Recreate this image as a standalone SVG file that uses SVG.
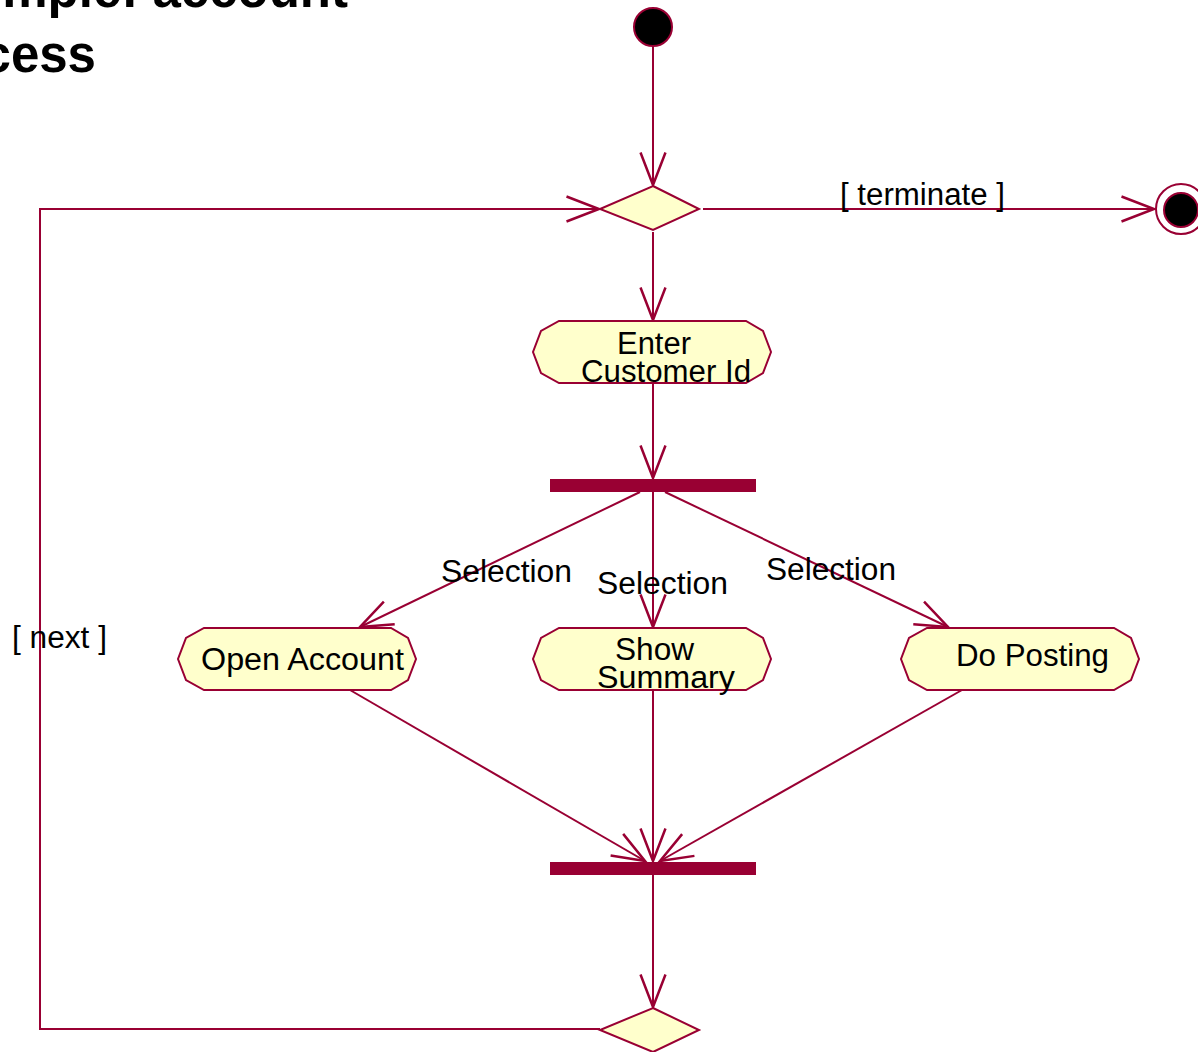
<svg xmlns="http://www.w3.org/2000/svg" width="1198" height="1052" viewBox="0 0 1198 1052">
  <style>
    .edge { fill: none; stroke: #990033; stroke-width: 2; }
    .act { fill: #FFFFCC; stroke: #990033; stroke-width: 2; }
    .bar { fill: #990033; }
    .dec { fill: #FFFFCC; stroke: #990033; stroke-width: 2; }
    .lbl { font-family: "Liberation Sans", Arial, sans-serif; font-size: 31px; fill: #000; }
    .title { font-family: "Liberation Sans", Arial, sans-serif; font-size: 51px; font-weight: bold; fill: #000; }
  </style>
  <defs>
    <!-- open V arrowhead -->
    <marker id="arrow" markerUnits="userSpaceOnUse" orient="auto" refX="0" refY="0" markerWidth="40" markerHeight="40" viewBox="-30 -15 32 30" overflow="visible">
      <path d="M -26 -10 L 0 0 L -26 10" fill="none" stroke="#990033" stroke-width="2"/>
    </marker>
    <!-- activity node outline, 238 x 62 -->
    <polygon id="actShape" points="26,0 213,0 230,10 238,31 230,52 213,62 26,62 8,52 0,31 8,10"/>
  </defs>

  <rect width="1198" height="1052" fill="#FFFFFF"/>

  <!-- heading -->
  <text class="title" x="348" y="7" text-anchor="end">mple: account</text>
  <text class="title" x="96" y="72" text-anchor="end">cess</text>

  <!-- connectors -->
  <g id="connectors">
    <line class="edge" x1="653" y1="46" x2="653" y2="185" marker-end="url(#arrow)"/>
    <line class="edge" x1="703" y1="209" x2="1154" y2="209" marker-end="url(#arrow)"/>
    <line class="edge" x1="653" y1="232" x2="653" y2="320" marker-end="url(#arrow)"/>
    <line class="edge" x1="653" y1="384" x2="653" y2="478" marker-end="url(#arrow)"/>
    <line class="edge" x1="640" y1="492" x2="360" y2="627" marker-end="url(#arrow)"/>
    <line class="edge" x1="653" y1="492" x2="653" y2="627" marker-end="url(#arrow)"/>
    <line class="edge" x1="665" y1="492" x2="948" y2="627" marker-end="url(#arrow)"/>
    <line class="edge" x1="350" y1="690" x2="645" y2="861" marker-end="url(#arrow)"/>
    <line class="edge" x1="653" y1="690" x2="653" y2="861" marker-end="url(#arrow)"/>
    <line class="edge" x1="962" y1="690" x2="660" y2="861" marker-end="url(#arrow)"/>
    <line class="edge" x1="653" y1="874" x2="653" y2="1007" marker-end="url(#arrow)"/>
    <polyline class="edge" points="600,1029 40,1029 40,209 599,209" marker-end="url(#arrow)"/>
    <text class="lbl" x="840" y="205" textLength="165" lengthAdjust="spacingAndGlyphs">[ terminate ]</text>
    <text class="lbl" x="12" y="648" textLength="95" lengthAdjust="spacingAndGlyphs">[ next ]</text>
    <text class="lbl" x="441" y="582" textLength="131" lengthAdjust="spacingAndGlyphs">Selection</text>
    <text class="lbl" x="597" y="594" textLength="131" lengthAdjust="spacingAndGlyphs">Selection</text>
    <text class="lbl" x="766" y="580" textLength="130" lengthAdjust="spacingAndGlyphs">Selection</text>
  </g>

  <!-- initial state -->
  <g id="start">
    <circle cx="653" cy="27" r="19" fill="#000" stroke="#990033" stroke-width="2"/>
  </g>

  <!-- upper decision -->
  <g id="decisionTop">
    <polygon class="dec" points="653,186 699,209 653,230 600,209"/>
  </g>

  <!-- final state -->
  <g id="final">
    <circle cx="1181" cy="209" r="25" fill="#FFFFFF" stroke="#990033" stroke-width="2"/>
    <circle cx="1181" cy="210" r="17" fill="#000" stroke="#990033" stroke-width="2"/>
  </g>

  <g id="enterCustomerId">
    <use href="#actShape" class="act" x="533" y="321"/>
    <text class="lbl" x="617" y="354" textLength="74" lengthAdjust="spacingAndGlyphs">Enter</text>
    <text class="lbl" x="581" y="382" textLength="170" lengthAdjust="spacingAndGlyphs">Customer Id</text>
  </g>

  <g id="forkBar">
    <rect class="bar" x="550" y="479" width="206" height="13"/>
  </g>

  <g id="openAccount">
    <use href="#actShape" class="act" x="178" y="628"/>
    <text class="lbl" x="201" y="670" textLength="203" lengthAdjust="spacingAndGlyphs">Open Account</text>
  </g>

  <g id="showSummary">
    <use href="#actShape" class="act" x="533" y="628"/>
    <text class="lbl" x="615" y="660" textLength="79" lengthAdjust="spacingAndGlyphs">Show</text>
    <text class="lbl" x="597" y="688" textLength="138" lengthAdjust="spacingAndGlyphs">Summary</text>
  </g>

  <g id="doPosting">
    <use href="#actShape" class="act" x="901" y="628"/>
    <text class="lbl" x="956" y="666" textLength="153" lengthAdjust="spacingAndGlyphs">Do Posting</text>
  </g>

  <g id="joinBar">
    <rect class="bar" x="550" y="862" width="206" height="13"/>
  </g>

  <g id="decisionBottom">
    <polygon class="dec" points="653,1008 699,1030 653,1052 600,1030"/>
  </g>
</svg>
